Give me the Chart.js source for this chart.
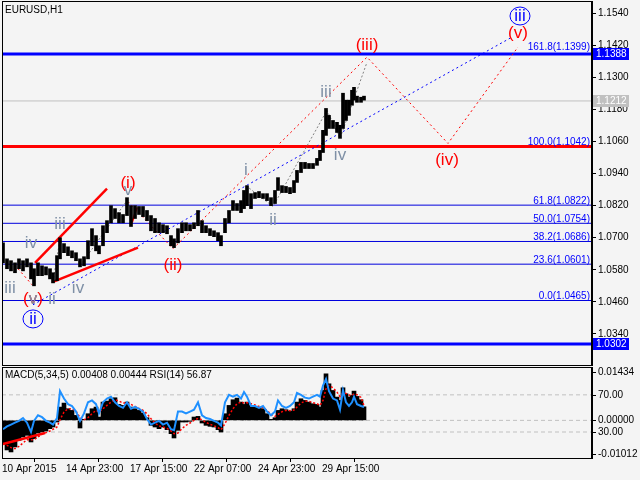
<!DOCTYPE html>
<html>
<head>
<meta charset="utf-8">
<script src="https://cdn.jsdelivr.net/npm/chart.js@4.4.0/dist/chart.umd.min.js"></script>
<style>
html, body { margin: 0; padding: 0; background: #f4f4f4; }
#wrap { position: relative; width: 640px; height: 480px; background: #f4f4f4; }
#main { position: absolute; left: 0; top: 0; }
#sub { position: absolute; left: 0; top: 366px; }
</style>
</head>
<body>
<div id="wrap">
  <canvas id="main" width="640" height="366"></canvas>
  <canvas id="sub" width="640" height="114"></canvas>
</div>
<script>
// hourly bar number since 10 Apr 2015 (sampled)
var barIndex = [1,5,9,13,17,21,25,29,32,36,40,44,48,51,55,58,62,66,70,74,78,82,86,90,94,97,101,105,109,113,
  117,121,125,129,133,137,141,145,149,153,157,161,165,169,172,176,180,184,188,192,196,200,204,208,212,216,219,223,227,231,
  235,239,242,245,249,253,257,261,265,269,273,276,280,284,288,292,295,299,303,307,311,315,318,321,324,327,331,335,338,341,
  344,347,350,352,355,359,362];
var highs = [1.0681,1.0621,1.0614,1.0606,1.0621,1.0614,1.0621,1.0606,1.0584,1.0606,1.0595,1.0591,1.0584,1.0569,1.0633,1.0700,1.0678,1.0666,1.0651,1.0644,
  1.0621,1.0629,1.0689,1.0734,1.0708,1.0670,1.0745,1.0764,1.0820,1.0809,1.0794,1.0787,1.0850,1.0820,1.0820,1.0817,1.0817,1.0802,1.0783,1.0772,
  1.0756,1.0749,1.0745,1.0708,1.0696,1.0734,1.0756,1.0756,1.0749,1.0756,1.0802,1.0764,1.0745,1.0734,1.0726,1.0719,1.0708,1.0772,1.0802,1.0839,
  1.0828,1.0839,1.0877,1.0895,1.0865,1.0869,1.0873,1.0865,1.0865,1.0850,1.0877,1.0925,1.0895,1.0892,1.0888,1.0914,1.0952,1.0982,1.0982,1.0978,
  1.0978,1.0997,1.1027,1.1102,1.1184,1.1158,1.1139,1.1132,1.1121,1.1241,1.1215,1.1215,1.1252,1.1263,1.1230,1.1226,1.1230];
var lows = [1.0606,1.0584,1.0576,1.0569,1.0584,1.0576,1.0591,1.0546,1.0520,1.0558,1.0558,1.0561,1.0546,1.0531,1.0539,1.0621,1.0644,1.0633,1.0625,1.0614,
  1.0591,1.0595,1.0621,1.0670,1.0651,1.0640,1.0670,1.0719,1.0756,1.0772,1.0756,1.0756,1.0783,1.0742,1.0772,1.0787,1.0779,1.0764,1.0726,1.0719,
  1.0719,1.0719,1.0715,1.0670,1.0663,1.0681,1.0719,1.0726,1.0726,1.0734,1.0745,1.0719,1.0719,1.0708,1.0704,1.0689,1.0670,1.0719,1.0756,1.0802,
  1.0802,1.0794,1.0809,1.0820,1.0809,1.0847,1.0850,1.0847,1.0839,1.0820,1.0828,1.0877,1.0869,1.0869,1.0865,1.0869,1.0907,1.0944,1.0959,1.0959,
  1.0959,1.0971,1.0989,1.1019,1.1083,1.1109,1.1109,1.1094,1.1072,1.1109,1.1139,1.1158,1.1196,1.1215,1.1207,1.1207,1.1215];
var macd = [-0.0068,-0.0089,-0.0095,-0.0080,-0.0060,-0.0050,-0.0045,-0.0065,-0.0055,-0.0038,-0.0035,-0.0032,-0.0025,-0.0020,-0.0005,0.0040,0.0052,0.0035,0.0030,0.0015,
  -0.0023,0.0003,0.0020,0.0035,0.0040,0.0010,0.0055,0.0058,0.0065,0.0068,0.0048,0.0045,0.0055,0.0040,0.0035,0.0030,0.0022,0.0008,-0.0015,-0.0020,
  -0.0025,-0.0020,-0.0028,-0.0040,-0.0053,-0.0030,-0.0005,-0.0005,-0.0003,0.0010,0.0012,-0.0008,-0.0015,-0.0018,-0.0020,-0.0028,-0.0035,0.0020,0.0045,0.0062,
  0.0067,0.0055,0.0048,0.0055,0.0045,0.0042,0.0038,0.0035,0.0020,0.0003,0.0008,0.0030,0.0035,0.0032,0.0028,0.0035,0.0055,0.0065,0.0060,0.0055,
  0.0050,0.0048,0.0040,0.0090,0.0140,0.0110,0.0090,0.0070,0.0060,0.0098,0.0080,0.0070,0.0075,0.0088,0.0072,0.0062,0.00408];
var signal = [-0.0070,-0.0075,-0.0082,-0.0085,-0.0078,-0.0068,-0.0058,-0.0058,-0.0058,-0.0050,-0.0042,-0.0037,-0.0032,-0.0027,-0.0020,0.0002,0.0025,0.0035,0.0035,0.0028,
  0.0008,0.0002,0.0008,0.0020,0.0030,0.0025,0.0035,0.0045,0.0055,0.0062,0.0058,0.0052,0.0052,0.0048,0.0042,0.0036,0.0030,0.0020,0.0005,-0.0008,
  -0.0017,-0.0020,-0.0024,-0.0032,-0.0040,-0.0038,-0.0025,-0.0015,-0.0008,0.0000,0.0006,0.0002,-0.0006,-0.0012,-0.0016,-0.0022,-0.0028,-0.0010,0.0015,0.0035,
  0.0050,0.0055,0.0052,0.0053,0.0050,0.0046,0.0042,0.0038,0.0030,0.0018,0.0012,0.0018,0.0026,0.0030,0.0029,0.0031,0.0040,0.0052,0.0058,0.0057,
  0.0053,0.0050,0.0045,0.0060,0.0095,0.0105,0.0098,0.0085,0.0072,0.0082,0.0081,0.0076,0.0075,0.0080,0.0077,0.0069,0.00444];
var rsi = [33,36,38,40,42,45,40,30,42,48,46,42,40,38,45,74,66,60,58,52,
  42,50,62,64,60,50,62,66,68,62,58,56,62,55,57,55,52,44,38,40,
  42,38,40,33,32,52,52,50,52,54,62,48,45,44,42,40,37,62,70,68,
  70,66,73,68,58,58,56,58,52,48,52,64,58,56,58,62,72,70,67,66,
  68,70,68,80,87,74,66,64,54,75,62,58,62,68,60,58,56.87];

var timeTicks = [0, 64, 128, 192, 256, 320];
var timeLabels = ['10 Apr 2015', '14 Apr 23:00', '17 Apr 15:00', '22 Apr 07:00', '24 Apr 23:00', '29 Apr 15:00'];
var priceTicks = [1.0340, 1.0460, 1.0580, 1.0700, 1.0820, 1.0940, 1.1060, 1.1180, 1.1300, 1.1420, 1.1540];

var fibLevels = [161.8, 100.0, 61.8, 50.0, 38.2, 23.6, 0.0];
var fibPrices = [1.1399, 1.1042, 1.0822, 1.0754, 1.0686, 1.0601, 1.0465];
var targetLevels = [1.1388, 1.0302];
var lastPrice = 1.1212;

// wave (iii)-(iv)-(v) projection path
var zigIdx = [126, 171, 365, 446, 516];
var zigPrice = [1.0835, 1.0659, 1.1376, 1.1053, 1.1414];

var waveText = ['iii','iv','(v)','v','ii','ii','iii','iv','(i)','v','(ii)','i','ii','iii','iv','(iii)','(iv)','(v)','iii'];
var waveIdx = [8,29,31,31,31,50,58,76,126,126,171,244,271,324,338,365,445,516,518];
var wavePrice = [1.0509,1.0678,1.0471,1.0471,1.0396,1.0471,1.0749,1.0509,1.0903,1.0877,1.0595,1.0952,1.0764,1.1245,1.1008,1.1421,1.0989,1.1466,1.1530];
var waveKind = ['g','g','r','g','b','g','g','g','r','g','r','g','g','g','g','r','r','r','b'];

var FONT = "'Liberation Sans', Arial, sans-serif";
var XMAX = 590;

function pts(xs, ys) {
    var out = [];
    for (var i = 0; i < xs.length; i++) out.push({x: xs[i], y: ys[i]});
    return out;
}
function lineDs(data, color, width, dash, order, axis) {
    return {
        type: 'line', data: data, borderColor: color, borderWidth: width,
        borderDash: dash || [], pointRadius: 0, fill: false, tension: 0,
        order: order, yAxisID: axis || 'y'
    };
}
function hline(p) { return pts([0, XMAX], [p, p]); }
function noPad(s) { s.paddingTop = 0; s.paddingBottom = 0; s.paddingLeft = 0; s.paddingRight = 0; }

// ---------- main price window ----------
var mainSets = [];
mainSets.push({
    type: 'bar',
    data: barIndex.map(function (x, i) { return {x: x, y: [lows[i], highs[i]]}; }),
    backgroundColor: '#000', barThickness: 3, order: 0
});
mainSets.push(lineDs(hline(targetLevels[0]), '#0000ff', 3, null, 5));
mainSets.push(lineDs(hline(targetLevels[1]), '#0000ff', 3, null, 5));
mainSets.push(lineDs(hline(lastPrice), '#c0c0c0', 1, null, 6));
mainSets.push(lineDs(hline(fibPrices[1]), '#ff0000', 3, null, 5));
for (var f = 2; f < fibPrices.length; f++) {
    mainSets.push(lineDs(hline(fibPrices[f]), '#0000dd', 1, null, 6));
}
mainSets.push(lineDs(pts([31, 510], [1.0449, 1.1451]), '#0000ff', 1, [2, 3], 3));
mainSets.push(lineDs(pts(zigIdx, zigPrice), '#ff0000', 1, [2, 3], 3));
mainSets.push(lineDs(pts([16, 30], [1.0584, 1.0524]), '#ff0000', 1, [2, 3], 3));
mainSets.push(lineDs(pts([51, 58], [1.0535, 1.0696]), '#808080', 1, [2, 2], 3));
mainSets.push(lineDs(pts([78, 125], [1.0595, 1.0839]), '#808080', 1, [2, 2], 3));
mainSets.push(lineDs(pts([244, 271, 325, 338, 365], [1.0895, 1.0817, 1.1177, 1.1072, 1.1357]), '#808080', 1, [2, 2], 3));
mainSets.push(lineDs(pts([33, 105], [1.0606, 1.0884]), '#ff0000', 2.5, null, 2));
mainSets.push(lineDs(pts([51, 136], [1.0535, 1.0663]), '#ff0000', 2.5, null, 2));
mainSets.push(lineDs(pts([130, 135], [1.0757, 1.0813]), '#ff0000', 2, null, 2));

var mainDecor = {
    id: 'mainDecor',
    afterDraw: function (chart) {
        var ctx = chart.ctx, a = chart.chartArea, xs = chart.scales.x, ys = chart.scales.y;
        ctx.save();
        ctx.strokeStyle = '#000';
        ctx.lineWidth = 1;
        ctx.strokeRect(a.left + 0.5, a.top + 0.5, a.right - a.left - 1, a.bottom - a.top);

        ctx.fillStyle = '#000';
        ctx.font = '10px ' + FONT;
        ctx.textAlign = 'left';
        ctx.textBaseline = 'middle';
        ctx.fillText('EURUSD,H1', 5, 10);

        // fibo level captions
        ctx.fillStyle = '#0000ff';
        ctx.textAlign = 'right';
        ctx.textBaseline = 'bottom';
        for (var i = 0; i < fibLevels.length; i++) {
            var fy = ys.getPixelForValue(fibPrices[i]);
            ctx.fillText(fibLevels[i].toFixed(1) + '(' + fibPrices[i].toFixed(4) + ')', a.right - 2, fy + 1);
        }

        // wave labels
        ctx.font = '17px ' + FONT;
        ctx.textAlign = 'center';
        ctx.textBaseline = 'middle';
        for (var w = 0; w < waveText.length; w++) {
            var px = xs.getPixelForValue(waveIdx[w]);
            var py = ys.getPixelForValue(wavePrice[w]);
            if (waveKind[w] === 'g') ctx.fillStyle = '#7f90a6';
            else if (waveKind[w] === 'r') ctx.fillStyle = '#ff0000';
            else ctx.fillStyle = '#0000ff';
            ctx.fillText(waveText[w], px, py);
            if (waveKind[w] === 'b') {
                ctx.strokeStyle = '#0000ff';
                ctx.beginPath();
                ctx.ellipse(px, py, 10, 9, 0, 0, Math.PI * 2);
                ctx.stroke();
            }
        }

        // price boxes on the axis
        ctx.font = '10px ' + FONT;
        ctx.textAlign = 'left';
        ctx.textBaseline = 'middle';
        var boxes = [[targetLevels[0], '#0000ff'], [lastPrice, '#c0c0c0'], [targetLevels[1], '#0000ff']];
        boxes.forEach(function (b) {
            var by = Math.round(ys.getPixelForValue(b[0]));
            ctx.fillStyle = b[1];
            ctx.fillRect(a.right + 1, by - 6, 36, 12);
            ctx.fillStyle = '#fff';
            ctx.fillText(b[0].toFixed(4), a.right + 4, by);
        });
        ctx.restore();
    }
};

new Chart(document.getElementById('main'), {
    type: 'bar',
    data: { datasets: mainSets },
    options: {
        responsive: false,
        animation: false,
        events: [],
        layout: { padding: { top: 1, bottom: 1, left: 2, right: 0 } },
        plugins: { legend: { display: false }, tooltip: { enabled: false } },
        scales: {
            x: { type: 'linear', min: 0, max: XMAX, offset: false, display: false },
            y: {
                position: 'right', min: 1.02236, max: 1.15862,
                afterBuildTicks: function (s) { s.ticks = priceTicks.map(function (v) { return {value: v}; }); },
                afterFit: function (s) { s.width = 48; noPad(s); },
                grid: { drawOnChartArea: false, tickLength: 4, color: '#000' },
                border: { display: true, color: '#000' },
                ticks: {
                    color: '#000', padding: 2, font: { family: FONT, size: 10 },
                    callback: function (v) { return v.toFixed(4); }
                }
            }
        }
    },
    plugins: [mainDecor]
});

// ---------- MACD / RSI window ----------
var subSets = [];
subSets.push(lineDs(pts(barIndex, rsi), '#1e90ff', 2, null, 0, 'rsi'));
subSets.push(lineDs(pts(barIndex, signal), '#ff0000', 1.5, [2, 2], 1));
subSets.push({
    type: 'bar',
    data: pts(barIndex, macd),
    backgroundColor: '#000', barThickness: 4, order: 2
});
subSets.push(lineDs(pts([1, 43], [-0.0071, -0.0038]), '#ff0000', 2.5, null, 0));
subSets.push(lineDs(hline(70), '#c0c0c0', 1, [4, 3], 4, 'rsi'));
subSets.push(lineDs(hline(30), '#c0c0c0', 1, [4, 3], 4, 'rsi'));
subSets.push(lineDs(hline(0), '#c0c0c0', 1, [4, 3], 4));

var subDecor = {
    id: 'subDecor',
    afterDraw: function (chart) {
        var ctx = chart.ctx, a = chart.chartArea, rs = chart.scales.rsi;
        ctx.save();
        ctx.strokeStyle = '#000';
        ctx.lineWidth = 1;
        ctx.strokeRect(a.left + 0.5, a.top + 0.5, a.right - a.left - 1, a.bottom - a.top);
        ctx.fillStyle = '#000';
        ctx.font = '10px ' + FONT;
        ctx.textAlign = 'left';
        ctx.textBaseline = 'middle';
        ctx.fillText('MACD(5,34,5) ' + macd[macd.length - 1].toFixed(5) + ' ' +
            signal[signal.length - 1].toFixed(5) + ' RSI(14) ' + rsi[rsi.length - 1].toFixed(2), 5, 9);
        [70, 30].forEach(function (v) {
            var y = Math.round(rs.getPixelForValue(v)) + 0.5;
            ctx.beginPath();
            ctx.moveTo(a.right, y);
            ctx.lineTo(a.right + 4, y);
            ctx.stroke();
            ctx.fillText(v.toFixed(2), a.right + 6, y);
        });
        ctx.restore();
    }
};

new Chart(document.getElementById('sub'), {
    type: 'bar',
    data: { datasets: subSets },
    options: {
        responsive: false,
        animation: false,
        events: [],
        layout: { padding: { top: 1, bottom: 0, left: 2, right: 0 } },
        plugins: { legend: { display: false }, tooltip: { enabled: false } },
        scales: {
            x: {
                type: 'linear', min: 0, max: XMAX, offset: false, position: 'bottom',
                afterBuildTicks: function (s) { s.ticks = timeTicks.map(function (v) { return {value: v}; }); },
                afterFit: function (s) { s.height = 22; noPad(s); },
                grid: { drawOnChartArea: false, tickLength: 4, color: '#000' },
                border: { display: true, color: '#000' },
                ticks: {
                    color: '#000', padding: 1, align: 'start', maxRotation: 0, autoSkip: false,
                    font: { family: FONT, size: 10 },
                    callback: function (v) { return timeLabels[timeTicks.indexOf(v)]; }
                }
            },
            y: {
                position: 'right', min: -0.01132, max: 0.01605,
                afterBuildTicks: function (s) { s.ticks = [{value: 0.01434}, {value: 0}, {value: -0.01012}]; },
                afterFit: function (s) { s.width = 48; noPad(s); },
                grid: { drawOnChartArea: false, tickLength: 4, color: '#000' },
                border: { display: true, color: '#000' },
                ticks: {
                    color: '#000', padding: 2, font: { family: FONT, size: 10 },
                    callback: function (v) { return v.toFixed(5); }
                }
            },
            rsi: { type: 'linear', axis: 'y', position: 'right', min: 2, max: 100, display: false }
        }
    },
    plugins: [subDecor]
});
</script>
</body>
</html>
